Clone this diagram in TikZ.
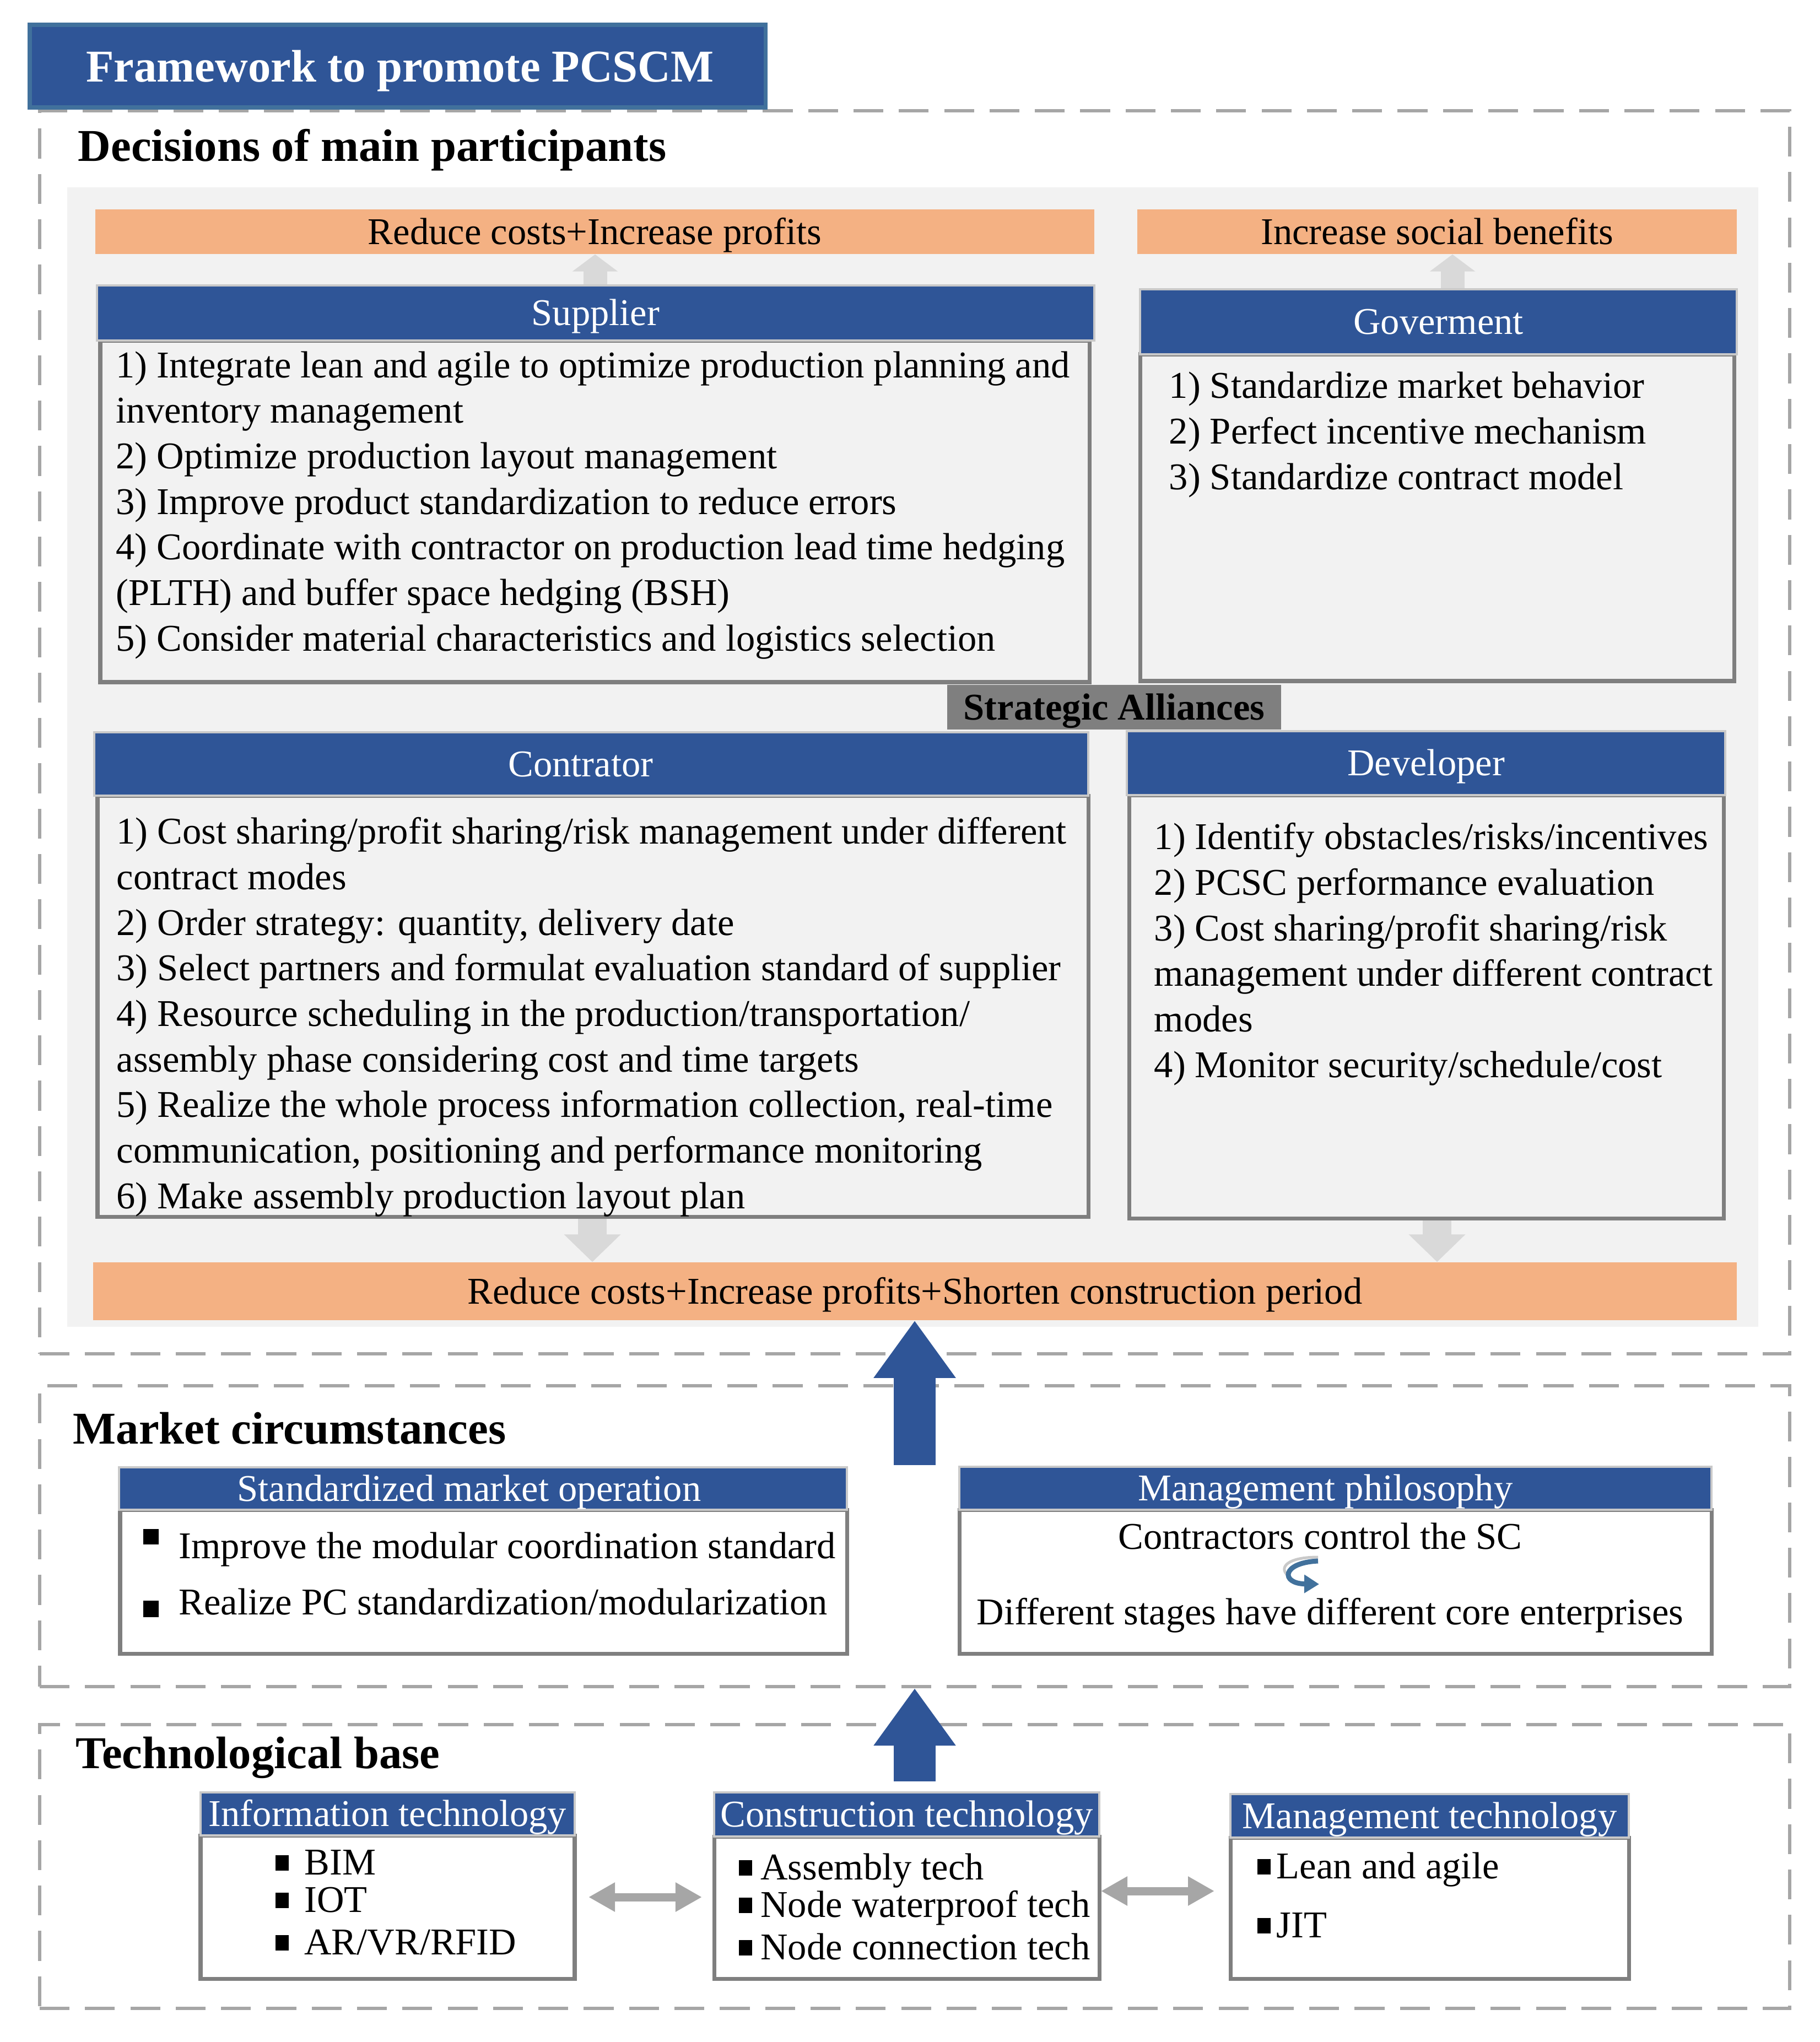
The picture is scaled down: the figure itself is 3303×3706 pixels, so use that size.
\documentclass[tikz,border=0pt]{standalone}
\usepackage{fontspec}
\setmainfont{Liberation Serif}
\usetikzlibrary{arrows.meta,fit}
\definecolor{hblue}{HTML}{2F5597}
\definecolor{tborder}{HTML}{41719C}
\definecolor{orng}{HTML}{F4B183}
\definecolor{panelc}{HTML}{F2F2F2}
\definecolor{dashc}{HTML}{A6A6A6}
\definecolor{larrow}{HTML}{D9D9D9}
\definecolor{hborder}{HTML}{C9C9C9}
\definecolor{bborder}{HTML}{7F7F7F}
\definecolor{curvc}{HTML}{41719C}
\newcommand\myfb{\fontsize{19.5pt}{23.5pt}\selectfont}
\newcommand\myfh{\fontsize{23.5pt}{28pt}\selectfont\bfseries}
\newcommand\sqb{\rule[2pt]{7pt}{8pt}}
\begin{document}
\begin{tikzpicture}[x=0.01cm,y=-0.01cm,
  titlebox/.style={fill=hblue, draw=tborder, line width=2pt, inner sep=0pt},
  dashbox/.style={draw=dashc, line width=1.7pt, dash pattern=on 15.4pt off 8pt, inner sep=0pt},
  panel/.style={fill=panelc, inner sep=0pt},
  hdr/.style={fill=hblue, draw=hborder, line width=1.3pt, inner sep=0pt},
  bodyb/.style={draw=bborder, line width=2pt, inner sep=0pt},
  bodyw/.style={draw=bborder, line width=2pt, fill=white, inner sep=0pt},
  goal/.style={fill=orng, inner sep=0pt},
  alliance/.style={fill=bborder, inner sep=0pt},
  txt/.style={anchor=base west, inner sep=0pt, align=left, font=\myfb},
  ctxt/.style={anchor=base, inner sep=0pt, font=\myfb},
  wtxt/.style={anchor=base, inner sep=0pt, font=\myfb, text=white},
  heading/.style={anchor=base west, inner sep=0pt, font=\myfh},
  garrow/.style={draw=larrow, line width=0.43cm, -{Triangle[width=0.81cm,length=0.31cm]}},
  garrowb/.style={draw=larrow, line width=0.52cm, -{Triangle[width=1.0cm,length=0.5cm]}},
  barrow/.style={draw=hblue, line width=0.76cm, -{Triangle[width=1.42cm,length=1.04cm]}},
  dblarrow/.style={draw=dashc, line width=0.15cm, {Triangle[width=0.5cm,length=0.48cm]}-{Triangle[width=0.5cm,length=0.48cm]}}
]
\useasboundingbox (0,0) rectangle (3303,3706);

% ---------- section 1 ----------
\node[dashbox, fit={(72,201) (3248,2457)}] (sec1) {};
\node[titlebox, fit={(54,45) (1389,195)}] (title) {};
\node[anchor=base, inner sep=0pt, font=\myfh, text=white] (titletxt) at ([xshift=0.045cm,yshift=-8pt]title.center) {Framework to promote PCSCM};
\node[heading] (h1) at (141,292) {Decisions of main participants};
\node[panel, fit={(122,340) (3191,2408)}] (pnl) {};

\node[goal, fit={(173,380) (1986,461)}] (ored1) {};
\node[ctxt] (ored1t) at ([yshift=-6.5pt]ored1.center) {Reduce costs+Increase profits};
\node[goal, fit={(2064,380) (3152,461)}] (ored2) {};
\node[ctxt] (ored2t) at ([yshift=-6.5pt]ored2.center) {Increase social benefits};

\node[bodyb, fit={(182,618) (1977,1238)}] (supbody) {};
\node[hdr, fit={(176,518) (1986,618)}] (suphdr) {};
\node[wtxt] (suphdrt) at ([yshift=-6.5pt]suphdr.center) {Supplier};
\node[txt] (suptxt) at (210,1181) {1) Integrate lean and agile to optimize production planning and\\
inventory management\\
2) Optimize production layout management\\
3) Improve product standardization to reduce errors\\
4) Coordinate with contractor on production lead time hedging\\
(PLTH) and buffer space hedging (BSH)\\
5) Consider material characteristics and logistics selection};

\node[bodyb, fit={(2069,643) (3147,1236)}] (govbody) {};
\node[hdr, fit={(2069,525) (3152,643)}] (govhdr) {};
\node[wtxt] (govhdrt) at ([yshift=-6.5pt]govhdr.center) {Goverment};
\node[txt] (govtxt) at (2121,888) {1) Standardize market behavior\\
2) Perfect incentive mechanism\\
3) Standardize contract model};

\node[alliance, fit={(1719,1243) (2325,1324)}] (sa) {};
\node[anchor=base, inner sep=0pt, font=\myfb\bfseries] (sat) at ([yshift=-6.5pt]sa.center) {Strategic Alliances};

\node[bodyb, fit={(177,1444) (1975,2208)}] (conbody) {};
\node[hdr, fit={(171,1329) (1975,1444)}] (conhdr) {};
\node[wtxt] (conhdrt) at ([xshift=-0.19cm,yshift=-6.5pt]conhdr.center) {Contrator};
\node[txt] (contxt) at (211,2193) {1) Cost sharing/profit sharing/risk management under different\\
contract modes\\
2) Order strategy: quantity, delivery date\\
3) Select partners and formulat evaluation standard of supplier\\
4) Resource scheduling in the production/transportation/\\
assembly phase considering cost and time targets\\
5) Realize the whole process information collection, real-time\\
communication, positioning and performance monitoring\\
6) Make assembly production layout plan};

\node[bodyb, fit={(2049,1443) (3128,2211)}] (devbody) {};
\node[hdr, fit={(2045,1327) (3131,1443)}] (devhdr) {};
\node[wtxt] (devhdrt) at ([yshift=-6.5pt]devhdr.center) {Developer};
\node[txt] (devtxt) at (2094,1955) {1) Identify obstacles/risks/incentives\\
2) PCSC performance evaluation\\
3) Cost sharing/profit sharing/risk\\
management under different contract\\
modes\\
4) Monitor security/schedule/cost};

\node[goal, fit={(169,2291) (3152,2396)}] (ored3) {};
\node[ctxt] (ored3t) at ([yshift=-6.5pt]ored3.center) {Reduce costs+Increase profits+Shorten construction period};

\draw[garrow] (1080,0 |- suphdr.north) -- (1080,0 |- ored1.south);
\draw[garrow] (2636,0 |- govhdr.north) -- (2636,0 |- ored2.south);
\draw[garrowb] (1075,0 |- conbody.south) -- (1075,0 |- ored3.north);
\draw[garrowb] (2608,0 |- devbody.south) -- (2608,0 |- ored3.north);

% ---------- section 2 ----------
\node[dashbox, fit={(72,2515) (3248,3061)}] (sec2) {};
\node[heading] (h2) at (132,2620) {Market circumstances};

\node[bodyw, fit={(218,2740) (1537,3001)}] (smobody) {};
\node[hdr, fit={(216,2663) (1537,2740)}] (smohdr) {};
\node[wtxt] (smohdrt) at ([xshift=-0.25cm,yshift=-6.5pt]smohdr.center) {Standardized market operation};
\node[txt] (smo1) at (259,2828) {\rule[7pt]{8pt}{8pt}\hspace{10.5pt}Improve the modular coordination standard};
\node[txt] (smo2) at (259,2930) {\rule[-1.4pt]{8pt}{8.5pt}\hspace{10.5pt}Realize PC standardization/modularization};

\node[bodyw, fit={(1741,2740) (3106,3001)}] (mpbody) {};
\node[hdr, fit={(1741,2662) (3106,2740)}] (mphdr) {};
\node[wtxt] (mphdrt) at ([xshift=-0.18cm,yshift=-6.5pt]mphdr.center) {Management philosophy};
\node[ctxt] (mp1) at (2396,2811) {Contractors control the SC};
\node[ctxt] (mp2) at (2414,2948) {Different stages have different core enterprises};
\coordinate (cva) at (2392,2833);
\coordinate (cvb) at (2394,2875);
\draw[draw=hborder, line width=0.05cm] (2392,2826) .. controls (2335,2826) and (2322,2845) .. (2336,2858);
\draw[draw=curvc, line width=0.09cm, -{Triangle[width=0.32cm,length=0.27cm]}] (cva) .. controls (2325,2836) and (2324,2874) .. (cvb);

\coordinate (ba1) at (1660,2659);
\draw[barrow] (ba1) -- (1660,0 |- ored3.south);

% ---------- section 3 ----------
\node[dashbox, fit={(72,3130) (3248,3645)}] (sec3) {};
\node[heading] (h3) at (137,3209) {Technological base};

\node[bodyw, fit={(364,3331) (1043,3591)}] (itbody) {};
\node[hdr, fit={(364,3253) (1043,3331)}] (ithdr) {};
\node[wtxt] (ithdrt) at ([yshift=-6.5pt]ithdr.center) {Information technology};
\node[txt] (it1) at (499,3402) {\sqb\hspace{8pt}BIM};
\node[txt] (it2) at (499,3470) {\sqb\hspace{8pt}IOT};
\node[txt] (it3) at (499,3547) {\sqb\hspace{8pt}AR/VR/RFID};

\node[bodyw, fit={(1296,3333) (1995,3591)}] (ctbody) {};
\node[hdr, fit={(1296,3253) (1995,3333)}] (cthdr) {};
\node[wtxt] (cthdrt) at ([yshift=-6.5pt]cthdr.center) {Construction technology};
\node[txt] (ct1) at (1340,3411) {\sqb\hspace{4.3pt}Assembly tech};
\node[txt] (ct2) at (1340,3479) {\sqb\hspace{4.3pt}Node waterproof tech};
\node[txt] (ct3) at (1340,3556) {\sqb\hspace{4.3pt}Node connection tech};

\node[bodyw, fit={(2233,3335) (2956,3591)}] (mtbody) {};
\node[hdr, fit={(2233,3256) (2956,3335)}] (mthdr) {};
\node[wtxt] (mthdrt) at ([yshift=-6.5pt]mthdr.center) {Management technology};
\node[txt] (mt1) at (2281,3409) {\sqb\hspace{3pt}Lean and agile};
\node[txt] (mt2) at (2281,3516) {\sqb\hspace{3pt}JIT};

\coordinate (ba2) at (1660,3233);
\draw[barrow] (ba2) -- (1660,0 |- sec2.south);

\coordinate (d1a) at (1068,3443);
\coordinate (d1b) at (1274,3443);
\draw[dblarrow] (d1a) -- (d1b);
\coordinate (d2a) at (1998,3432);
\coordinate (d2b) at (2204,3432);
\draw[dblarrow] (d2a) -- (d2b);
\end{tikzpicture}
\end{document}
